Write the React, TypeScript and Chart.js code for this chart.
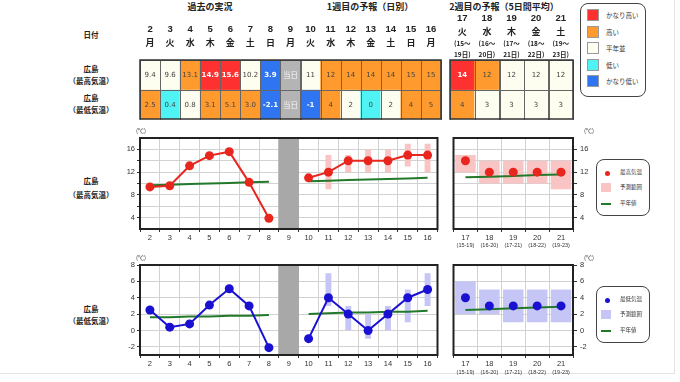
import React, { useEffect, useRef } from 'react';
import { Chart, registerables } from 'chart.js';
Chart.register(...registerables);

const FONT_NUM = '"Liberation Sans", Arial, sans-serif';
const FONT_CELL = '"DejaVu Sans", Verdana, sans-serif';
const FONT_JP = '"Noto Sans CJK JP", "Noto Sans", sans-serif';

// ---- categories ----
const DAILY_DAYS = ['2', '3', '4', '5', '6', '7', '8', '9', '10', '11', '12', '13', '14', '15', '16'];
const DAILY_WEEKDAYS = ['月', '火', '水', '木', '金', '土', '日', '月', '火', '水', '木', '金', '土', '日', '月'];
const TODAY_DAY = '9';
const WEEKLY_DAYS = ['17', '18', '19', '20', '21'];
const WEEKLY_WEEKDAYS = ['火', '水', '木', '金', '土'];
const WEEKLY_PERIOD_START = ['(15～', '(16～', '(17～', '(18～', '(19～'];
const WEEKLY_PERIOD_END = ['19日)', '20日)', '21日)', '22日)', '23日)'];
const WEEKLY_PERIOD_TICKS = ['(15-19)', '(16-20)', '(17-21)', '(18-22)', '(19-23)'];
const TABLE_ROWS = ['最高気温', '最低気温'];

// ---- table ----
const MAX_DAILY_TEXT = ['9.4', '9.6', '13.1', '14.9', '15.6', '10.2', '3.9', '当日', '11', '12', '14', '14', '14', '15', '15'];
const MAX_DAILY_CLASS = ['n', 'n', 'h', 'vh', 'vh', 'n', 'vl', 'today', 'n', 'h', 'h', 'h', 'h', 'h', 'h'];
const MIN_DAILY_TEXT = ['2.5', '0.4', '0.8', '3.1', '5.1', '3.0', '-2.1', '当日', '-1', '4', '2', '0', '2', '4', '5'];
const MIN_DAILY_CLASS = ['h', 'l', 'n', 'h', 'h', 'h', 'vl', 'today', 'vl', 'h', 'n', 'l', 'n', 'h', 'h'];
const MAX_WEEKLY_TEXT = ['14', '12', '12', '12', '12'];
const MAX_WEEKLY_CLASS = ['vh', 'h', 'n', 'n', 'n'];
const MIN_WEEKLY_TEXT = ['4', '3', '3', '3', '3'];
const MIN_WEEKLY_CLASS = ['h', 'n', 'n', 'n', 'n'];

const LEGEND_CLASSES = ['vh', 'h', 'n', 'l', 'vl'];
const LEGEND_LABELS = ['かなり高い', '高い', '平年並', '低い', 'かなり低い'];

// ---- series ----
const MAX_DAILY = [9.4, 9.6, 13.1, 14.9, 15.6, 10.2, 3.9, null, 11, 12, 14, 14, 14, 15, 15];
const MAX_DAILY_LOW = [null, null, null, null, null, null, null, null, null, 9, 12, 12, 12, 13, 12];
const MAX_DAILY_HIGH = [null, null, null, null, null, null, null, null, null, 15, 15, 16, 16, 17, 17];
const MAX_DAILY_NORMAL = [9.7, 9.8, 9.9, 10.0, 10.1, 10.2, 10.3, null, 10.4, 10.5, 10.6, 10.7, 10.8, 10.9, 11.0];
const MAX_WEEKLY = [14, 12, 12, 12, 12];
const MAX_WEEKLY_LOW = [12, 10, 10, 10, 9];
const MAX_WEEKLY_HIGH = [15, 14, 14, 14, 14];
const MAX_WEEKLY_NORMAL = [11.1, 11.2, 11.3, 11.5, 11.6];

const MIN_DAILY = [2.5, 0.4, 0.8, 3.1, 5.1, 3.0, -2.1, null, -1, 4, 2, 0, 2, 4, 5];
const MIN_DAILY_LOW = [null, null, null, null, null, null, null, null, null, 3, 0, -1, 0, 1, 3];
const MIN_DAILY_HIGH = [null, null, null, null, null, null, null, null, null, 7, 3, 2, 3, 5, 7];
const MIN_DAILY_NORMAL = [1.6, 1.6, 1.7, 1.7, 1.8, 1.8, 1.9, null, 2.0, 2.1, 2.2, 2.2, 2.3, 2.3, 2.4];
const MIN_WEEKLY = [4, 3, 3, 3, 3];
const MIN_WEEKLY_LOW = [2, 2, 1, 1, 1];
const MIN_WEEKLY_HIGH = [6, 5, 5, 5, 5];
const MIN_WEEKLY_NORMAL = [2.5, 2.6, 2.7, 2.8, 2.9];

// ---- axis ticks ----
const MAX_Y_RANGE = [2, 18];
const MAX_Y_GRID = [4, 6, 8, 10, 12, 14, 16];
const MAX_Y_LABELS = [4, 8, 12, 16];
const MIN_Y_RANGE = [-3, 8];
const MIN_Y_GRID = [-2, 0, 2, 4, 6, 8];
const MIN_Y_LABELS = [-2, 0, 2, 4, 6, 8];

// ---- style ----
const CLASS_COLORS: Record<string, string> = {
  vh: '#ff3030', h: '#ff9a2e', n: '#fdfdf0', l: '#4ff3f3', vl: '#2f74f0', today: '#b4b4b4',
};
const RED = '#e8261e';
const BLUE = '#1a10d2';
const GREEN = '#23792a';
const PINK = '#f9c4c4';
const LAVENDER = '#c6c6f6';
const GRAY = '#a8a8a8';
const GRID = '#d2d2d2';

function tablePlugin(header: (ctx: CanvasRenderingContext2D, chart: any) => void) {
  return {
    id: 'tableCells',
    afterDatasetsDraw(chart: any) {
      const ctx: CanvasRenderingContext2D = chart.ctx;
      ctx.save();
      chart.data.datasets.forEach((ds: any, di: number) => {
        const meta = chart.getDatasetMeta(di);
        meta.data.forEach((el: any, j: number) => {
          const top = Math.min(el.y, el.base);
          const bottom = Math.max(el.y, el.base);
          const left = el.x - el.width / 2;
          ctx.strokeStyle = '#666';
          ctx.lineWidth = 1;
          ctx.strokeRect(Math.round(left) + 0.5, Math.round(top) + 0.5, Math.round(el.width), Math.round(bottom - top));
          const cls = ds.cellClass[j];
          const strong = cls === 'vh' || cls === 'vl';
          const txt = ds.cellText[j];
          ctx.fillStyle = strong ? '#ffffff' : cls === 'today' ? '#f6f6f6' : '#444';
          ctx.font = `${strong ? 'bold ' : ''}${txt === '当日' ? '7.5px ' + FONT_JP : '7px ' + FONT_CELL}`;
          ctx.textAlign = 'center';
          ctx.textBaseline = 'middle';
          ctx.fillText(txt, el.x, (top + bottom) / 2 + 0.5);
        });
      });
      const a = chart.chartArea;
      ctx.strokeStyle = '#333';
      ctx.lineWidth = 1.5;
      ctx.strokeRect(a.left, a.top, a.right - a.left, a.bottom - a.top);
      header(ctx, chart);
      ctx.restore();
    },
  };
}

function tableConfig(labels: string[], texts: string[][], classes: string[][], header: any) {
  const datasets = TABLE_ROWS.map((row, r) => ({
    label: row,
    data: labels.map(() => [-r, 1 - r]),
    backgroundColor: classes[r].map((c) => CLASS_COLORS[c]),
    borderWidth: 0,
    barPercentage: 1,
    categoryPercentage: 1,
    grouped: false,
    cellText: texts[r],
    cellClass: classes[r],
  }));
  return {
    type: 'bar',
    data: { labels, datasets },
    options: {
      responsive: false,
      animation: false,
      events: [],
      layout: { padding: { top: 60, left: 1, right: 1, bottom: 1 } },
      scales: {
        x: { display: false },
        y: { display: false, min: -1, max: 1 },
      },
      plugins: { legend: { display: false }, tooltip: { enabled: false } },
    },
    plugins: [tablePlugin(header)],
  };
}

const dailyHeader = (ctx: CanvasRenderingContext2D, chart: any) => {
  const x = chart.scales.x;
  ctx.fillStyle = '#222';
  ctx.textAlign = 'center';
  ctx.textBaseline = 'middle';
  DAILY_DAYS.forEach((d, i) => {
    const px = x.getPixelForValue(i);
    ctx.font = `bold 9.5px ${FONT_NUM}`;
    ctx.fillText(d, px, 29);
    ctx.font = `bold 9px ${FONT_JP}`;
    ctx.fillText(DAILY_WEEKDAYS[i], px, 43);
  });
};

const weeklyHeader = (ctx: CanvasRenderingContext2D, chart: any) => {
  const x = chart.scales.x;
  ctx.fillStyle = '#222';
  ctx.textAlign = 'center';
  ctx.textBaseline = 'middle';
  WEEKLY_DAYS.forEach((d, i) => {
    const px = x.getPixelForValue(i);
    ctx.font = `bold 9.5px ${FONT_NUM}`;
    ctx.fillText(d, px, 18);
    ctx.font = `bold 9px ${FONT_JP}`;
    ctx.fillText(WEEKLY_WEEKDAYS[i], px, 32);
    ctx.font = `bold 6.5px ${FONT_JP}`;
    ctx.fillText(WEEKLY_PERIOD_START[i], px, 44);
    ctx.fillText(WEEKLY_PERIOD_END[i], px, 55);
  });
};

function framePlugin(side: 'left' | 'right') {
  return {
    id: 'frame',
    afterDatasetsDraw(chart: any) {
      const ctx: CanvasRenderingContext2D = chart.ctx;
      const a = chart.chartArea;
      ctx.save();
      ctx.strokeStyle = '#222';
      ctx.lineWidth = 2;
      ctx.strokeRect(a.left, a.top, a.right - a.left, a.bottom - a.top);
      ctx.fillStyle = '#333';
      ctx.font = `6px ${FONT_JP}`;
      ctx.textAlign = 'center';
      ctx.textBaseline = 'middle';
      ctx.fillText('(℃)', side === 'left' ? a.left + 1 : a.right + 16, a.top - 7);
      ctx.restore();
    },
  };
}

type Num = number | null;
interface PlotParams {
  labels: string[];
  subLabels?: string[];
  values: Num[];
  low: Num[];
  high: Num[];
  normal: Num[];
  band: boolean;
  yRange: number[];
  yGrid: number[];
  yLabels: number[];
  side: 'left' | 'right';
  color: string;
  rangeColor: string;
  rangeWidth: number;
  showLine: boolean;
  padding: any;
  yWidth: number;
  xHeight: number;
  x2Height?: number;
}

function plotConfig(p: PlotParams) {
  const datasets: any[] = [
    {
      type: 'line', data: p.values, borderColor: p.color, backgroundColor: p.color, borderWidth: 2,
      pointRadius: 4.5, pointHoverRadius: 4.5, pointBackgroundColor: p.color, pointBorderWidth: 0,
      showLine: p.showLine, spanGaps: false, order: 0,
    },
    {
      type: 'line', data: p.normal, borderColor: GREEN, borderWidth: 2, pointRadius: 0, spanGaps: false, order: 1,
    },
    {
      type: 'bar', data: p.low.map((l, i) => (l === null ? null : [l, p.high[i]])), backgroundColor: p.rangeColor,
      barPercentage: p.rangeWidth, categoryPercentage: 1, grouped: false, order: 2,
    },
  ];
  if (p.band) {
    datasets.push({
      type: 'bar', data: p.labels.map((l) => (l === TODAY_DAY ? [p.yRange[0], p.yRange[1]] : null)),
      backgroundColor: GRAY, barPercentage: 1, categoryPercentage: 1, grouped: false, order: 3,
    });
  }
  const scales: any = {
    x: {
      type: 'category',
      offset: true,
      grid: { offset: true, color: GRID, tickColor: '#333', tickLength: 3, drawTicks: true },
      border: { display: false },
      ticks: { font: { size: 7.5, family: FONT_NUM }, color: '#333', padding: 1, maxRotation: 0, autoSkip: false },
      afterFit: (s: any) => { s.height = p.xHeight; },
    },
    y: {
      type: 'linear',
      position: p.side,
      min: p.yRange[0],
      max: p.yRange[1],
      afterBuildTicks: (s: any) => { s.ticks = p.yGrid.map((v) => ({ value: v })); },
      ticks: {
        callback: (v: any) => (p.yLabels.includes(v) ? String(v) : ''),
        font: { size: 7.5, family: FONT_NUM }, color: '#333', padding: p.side === 'left' ? 2 : 3,
      },
      grid: { color: GRID, tickColor: '#333', tickLength: p.side === 'left' ? 3 : 4 },
      border: { display: false },
      afterFit: (s: any) => { s.width = p.yWidth; },
    },
  };
  if (p.subLabels) {
    scales.x2 = {
      type: 'category',
      labels: p.subLabels,
      position: 'bottom',
      offset: true,
      weight: 1,
      grid: { display: false, drawTicks: false },
      border: { display: false },
      ticks: { font: { size: 5.5, family: FONT_NUM }, color: '#333', padding: 0, maxRotation: 0, autoSkip: false },
      afterFit: (s: any) => { s.height = p.x2Height; },
    };
  }
  return {
    type: 'bar',
    data: { labels: p.labels, datasets },
    options: {
      responsive: false,
      animation: false,
      events: [],
      layout: { padding: p.padding },
      scales,
      plugins: { legend: { display: false }, tooltip: { enabled: false } },
    },
    plugins: [framePlugin(p.side)],
  };
}

function ChartBox({ left, top, width, height, config }: any) {
  const ref = useRef<HTMLCanvasElement>(null);
  useEffect(() => {
    const chart = new Chart(ref.current as HTMLCanvasElement, config);
    return () => chart.destroy();
  }, []);
  return (
    <div style={{ position: 'absolute', left, top, width, height }}>
      <canvas ref={ref} width={width} height={height} style={{ display: 'block', width, height }} />
    </div>
  );
}

function Txt({ x, y, size, bold = true, color = '#222', align = 'center', children }: any) {
  return (
    <div
      style={{
        position: 'absolute', left: x, top: y,
        transform: align === 'center' ? 'translate(-50%, -50%)' : 'translate(0, -50%)',
        fontSize: size, fontWeight: bold ? 700 : 400, fontFamily: FONT_JP, color,
        whiteSpace: 'nowrap', lineHeight: 1,
      }}
    >
      {children}
    </div>
  );
}

function SeriesLegend({ top, color, rangeColor, label }: any) {
  const row = (y: number, marker: any, text: string) => (
    <React.Fragment key={text}>
      {marker}
      <Txt x={23} y={y} size={5.5} bold={false} color="#333" align="left">{text}</Txt>
    </React.Fragment>
  );
  return (
    <div style={{ position: 'absolute', left: 596, top, width: 52, height: 55, border: '1.5px solid #444', borderRadius: 8, background: '#fff' }}>
      {row(13, <div style={{ position: 'absolute', left: 7.5, top: 10.5, width: 5, height: 5, borderRadius: 3, background: color }} />, label)}
      {row(28, <div style={{ position: 'absolute', left: 4, top: 23, width: 10, height: 9, background: rangeColor }} />, '予測範囲')}
      {row(43.5, <div style={{ position: 'absolute', left: 4, top: 42.5, width: 10, height: 2, background: GREEN }} />, '平年値')}
    </div>
  );
}

export default function App() {
  const dailyTable = tableConfig(DAILY_DAYS, [MAX_DAILY_TEXT, MIN_DAILY_TEXT], [MAX_DAILY_CLASS, MIN_DAILY_CLASS], dailyHeader);
  const weeklyTable = tableConfig(WEEKLY_DAYS, [MAX_WEEKLY_TEXT, MIN_WEEKLY_TEXT], [MAX_WEEKLY_CLASS, MIN_WEEKLY_CLASS], weeklyHeader);

  const maxDaily = plotConfig({
    labels: DAILY_DAYS, values: MAX_DAILY, low: MAX_DAILY_LOW, high: MAX_DAILY_HIGH, normal: MAX_DAILY_NORMAL,
    band: true, yRange: MAX_Y_RANGE, yGrid: MAX_Y_GRID, yLabels: MAX_Y_LABELS, side: 'left', color: RED,
    rangeColor: PINK, rangeWidth: 0.3, showLine: true, padding: { top: 13, left: 1, right: 1, bottom: 0 },
    yWidth: 40, xHeight: 23,
  });
  const maxWeekly = plotConfig({
    labels: WEEKLY_DAYS, subLabels: WEEKLY_PERIOD_TICKS, values: MAX_WEEKLY, low: MAX_WEEKLY_LOW, high: MAX_WEEKLY_HIGH,
    normal: MAX_WEEKLY_NORMAL, band: false, yRange: MAX_Y_RANGE, yGrid: MAX_Y_GRID, yLabels: MAX_Y_LABELS, side: 'right',
    color: RED, rangeColor: PINK, rangeWidth: 0.86, showLine: false, padding: { top: 13, left: 1, right: 0, bottom: 0 },
    yWidth: 26, xHeight: 13, x2Height: 10,
  });
  const minDaily = plotConfig({
    labels: DAILY_DAYS, values: MIN_DAILY, low: MIN_DAILY_LOW, high: MIN_DAILY_HIGH, normal: MIN_DAILY_NORMAL,
    band: true, yRange: MIN_Y_RANGE, yGrid: MIN_Y_GRID, yLabels: MIN_Y_LABELS, side: 'left', color: BLUE,
    rangeColor: LAVENDER, rangeWidth: 0.3, showLine: true, padding: { top: 13, left: 1, right: 1, bottom: 0 },
    yWidth: 40, xHeight: 27,
  });
  const minWeekly = plotConfig({
    labels: WEEKLY_DAYS, subLabels: WEEKLY_PERIOD_TICKS, values: MIN_WEEKLY, low: MIN_WEEKLY_LOW, high: MIN_WEEKLY_HIGH,
    normal: MIN_WEEKLY_NORMAL, band: false, yRange: MIN_Y_RANGE, yGrid: MIN_Y_GRID, yLabels: MIN_Y_LABELS, side: 'right',
    color: BLUE, rangeColor: LAVENDER, rangeWidth: 0.86, showLine: false, padding: { top: 13, left: 1, right: 0, bottom: 0 },
    yWidth: 26, xHeight: 14, x2Height: 13,
  });

  return (
    <div style={{ position: 'fixed', left: 0, top: 0, width: 680, height: 382, background: '#fff', overflow: 'hidden' }}>
      <div style={{ position: 'absolute', left: -2, top: -2, width: 676, height: 375, borderRight: '1px solid #e4e4e4', borderBottom: '1px solid #e4e4e4' }} />
      <Txt x={210} y={6} size={9}>過去の実況</Txt>
      <Txt x={370} y={6} size={9}>1週目の予報（日別）</Txt>
      <Txt x={504} y={6} size={9}>2週目の予報（5日間平均）</Txt>

      <Txt x={91} y={35} size={7.5}>日付</Txt>
      <Txt x={91} y={69} size={7.5}>広島</Txt>
      <Txt x={91} y={81} size={7.5}>（最高気温）</Txt>
      <Txt x={91} y={98} size={7.5}>広島</Txt>
      <Txt x={91} y={110} size={7.5}>（最低気温）</Txt>
      <Txt x={91} y={181} size={7.5}>広島</Txt>
      <Txt x={91} y={194.5} size={7.5}>（最高気温）</Txt>
      <Txt x={91} y={308.5} size={7.5}>広島</Txt>
      <Txt x={91} y={321} size={7.5}>（最低気温）</Txt>

      <ChartBox left={139} top={0} width={303} height={120} config={dailyTable} />
      <ChartBox left={449} top={0} width={125} height={120} config={weeklyTable} />
      <ChartBox left={99} top={125} width={343} height={127} config={maxDaily} />
      <ChartBox left={449} top={125} width={150} height={127} config={maxWeekly} />
      <ChartBox left={99} top={252} width={343} height={130} config={minDaily} />
      <ChartBox left={449} top={252} width={150} height={130} config={minWeekly} />

      <div style={{ position: 'absolute', left: 580, top: 3, width: 64, height: 92, border: '1.5px solid #444', borderRadius: 8, background: '#fff' }}>
        {LEGEND_CLASSES.map((c, i) => (
          <React.Fragment key={c}>
            <div style={{ position: 'absolute', left: 5.5, top: 5 + i * 16.6, width: 12, height: 12, background: CLASS_COLORS[c], border: '1px solid #999', boxSizing: 'border-box' }} />
            <Txt x={25} y={11 + i * 16.6} size={6.5} bold={false} color="#333" align="left">{LEGEND_LABELS[i]}</Txt>
          </React.Fragment>
        ))}
      </div>

      <SeriesLegend top={159} color={RED} rangeColor={PINK} label="最高気温" />
      <SeriesLegend top={286} color={BLUE} rangeColor={LAVENDER} label="最低気温" />
    </div>
  );
}
